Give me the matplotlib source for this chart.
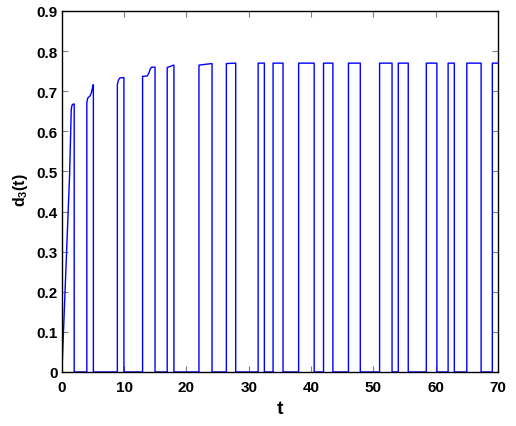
import numpy as np
import matplotlib
matplotlib.use("Agg")
from matplotlib import pyplot as plt
from matplotlib import font_manager

# (t, d3) corner points of each on-interval
pulse_t = [
    [0.0, 0.3, 0.7, 1.23, 1.5, 1.62, 1.8, 1.97],
    [4.0, 4.0, 4.15, 4.5, 4.75, 5.0, 5.05],
    [8.9, 8.9, 9.05, 9.3, 9.95],
    [12.95, 12.95, 13.7, 13.95, 14.2, 14.4, 14.95],
    [16.9, 16.9, 17.4, 17.9, 17.98],
    [22.0, 22.0, 23.0, 24.1],
    [26.4, 26.4, 27.9],
    [31.5, 31.5, 32.5],
    [33.9, 33.9, 35.5],
    [38.0, 38.0, 40.5],
    [42.0, 42.0, 43.5],
    [46.0, 46.0, 47.9],
    [51.0, 51.0, 53.0],
    [54.0, 54.0, 55.6],
    [58.5, 58.5, 60.2],
    [62.0, 62.0, 63.0],
    [65.0, 65.0, 67.3],
    [69.1, 69.1, 70.0],
]
pulse_d = [
    [0.0, 0.12, 0.28, 0.49, 0.655, 0.665, 0.668, 0.668],
    [0.0, 0.672, 0.683, 0.688, 0.697, 0.716, 0.716],
    [0.0, 0.716, 0.727, 0.733, 0.734],
    [0.0, 0.737, 0.738, 0.745, 0.756, 0.760, 0.760],
    [0.0, 0.759, 0.762, 0.765, 0.765],
    [0.0, 0.765, 0.767, 0.769],
    [0.0, 0.769, 0.770],
    [0.0, 0.770, 0.770],
    [0.0, 0.770, 0.770],
    [0.0, 0.770, 0.770],
    [0.0, 0.770, 0.770],
    [0.0, 0.770, 0.770],
    [0.0, 0.770, 0.770],
    [0.0, 0.770, 0.770],
    [0.0, 0.770, 0.770],
    [0.0, 0.770, 0.770],
    [0.0, 0.770, 0.770],
    [0.0, 0.770, 0.770],
]
ytick_labels = ["0", "0.1", "0.2", "0.3", "0.4", "0.5", "0.6", "0.7", "0.8", "0.9"]

# stitch the pulses together with drops back to zero
t = []
d = []
for pt, pd_ in zip(pulse_t, pulse_d):
    t += pt
    d += pd_
    if pt[-1] < 70:
        t.append(pt[-1])
        d.append(0.0)
t = np.array(t)
d = np.array(d)

installed = set(f.name for f in font_manager.fontManager.ttflist)
narrow = 'Liberation Sans Narrow' if 'Liberation Sans Narrow' in installed else 'Liberation Sans'

plt.rcParams['font.family'] = [narrow, 'DejaVu Sans']
plt.rcParams['font.weight'] = 'bold'
plt.rcParams['mathtext.default'] = 'regular'

fig = plt.figure(figsize=(5.16, 4.27), dpi=100)
ax = fig.add_axes([0.120, 0.1265, 0.845, 0.8454])

ax.plot(t, d, color='#0000ff', linewidth=1.0)

ax.set_xlim(0, 70)
ax.set_ylim(0, 0.9)
ax.set_xticks(np.arange(0, 71, 10))
ax.set_yticks(np.arange(0, 0.91, 0.1))
ax.set_yticklabels(ytick_labels)
ax.tick_params(direction='in', top=True, right=True, length=4, width=0.8,
               color='#808080', labelsize=11)
ax.tick_params(axis='x', pad=6)
ax.tick_params(axis='y', pad=3)
for lab in ax.get_xticklabels() + ax.get_yticklabels():
    lab.set_fontweight('bold')
for s in ax.spines.values():
    s.set_linewidth(1.0)

ax.set_xlabel("t", fontsize=14, fontweight='bold')
ax.xaxis.set_label_coords(0.5, -0.10)
ax.xaxis.label.set_va('center')
ax.set_ylabel("d$_3$(t)", fontsize=11.5, fontweight='bold')
ax.yaxis.set_label_coords(-0.094, 0.507)
ax.yaxis.label.set_va('center')

fig.savefig("out.png", dpi=100)
